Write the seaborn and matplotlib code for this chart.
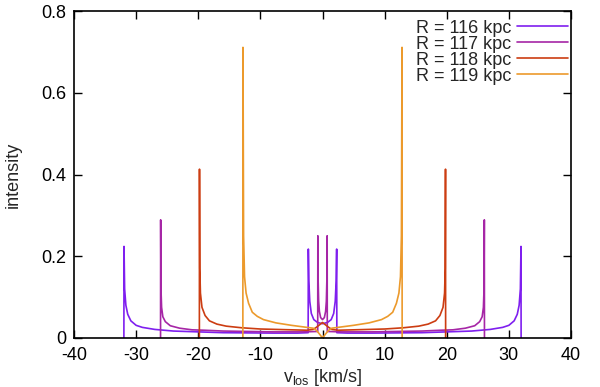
import numpy as np
import pandas as pd
import matplotlib
matplotlib.use("Agg")
import matplotlib.pyplot as plt
import seaborn as sns

# ---- data ----
labels = ["R = 116 kpc", "R = 117 kpc", "R = 118 kpc", "R = 119 kpc"]
colors = ["#7f1fef", "#a626a6", "#cc3d12", "#ec9a2c"]

v116 = [-31.97, -31.95, -31.85, -31.65, -31.35, -30.85, -30.0, -29.0, -27.0, -24.0, -20.0, -16.0, -12.0,
        -8.0, -4.0, -2.31, -2.28, -2.2, -2.05, -1.8, -1.4, -0.8, 0.0,
        0.8, 1.4, 1.8, 2.05, 2.2, 2.28, 2.31, 4.0, 8.0, 12.0, 16.0, 20.0, 24.0, 27.0, 29.0, 30.0,
        30.85, 31.35, 31.65, 31.85, 31.95, 31.97]
i116 = [0.0, 0.224, 0.12, 0.08, 0.058, 0.042, 0.031, 0.026, 0.021, 0.017, 0.015, 0.013, 0.0125,
        0.012, 0.012, 0.013, 0.2175, 0.14, 0.09, 0.06, 0.045, 0.038, 0.035,
        0.038, 0.045, 0.06, 0.09, 0.14, 0.2175, 0.013, 0.012, 0.012, 0.0125, 0.013, 0.015, 0.017, 0.021, 0.026, 0.031,
        0.042, 0.058, 0.08, 0.12, 0.224, 0.0]

v117 = [-26.07, -26.05, -26.0, -25.9, -25.7, -25.3, -24.5, -23.0, -21.0, -19.0, -16.0, -12.0, -8.0,
        -3.0, -0.77, -0.75, -0.7, -0.62, -0.5, -0.3, 0.0,
        0.3, 0.5, 0.62, 0.7, 0.75, 0.77, 3.0, 8.0, 12.0, 16.0, 19.0, 21.0, 23.0, 24.5, 25.3,
        25.7, 25.9, 26.0, 26.05, 26.07]
i117 = [0.0, 0.289, 0.12, 0.075, 0.052, 0.04, 0.03, 0.024, 0.02, 0.019, 0.017, 0.016, 0.015,
        0.015, 0.016, 0.25, 0.14, 0.09, 0.065, 0.05, 0.045,
        0.05, 0.065, 0.09, 0.14, 0.25, 0.016, 0.015, 0.015, 0.016, 0.017, 0.019, 0.02, 0.024, 0.03, 0.04,
        0.052, 0.075, 0.12, 0.289, 0.0]

v118 = [-19.82, -19.8, -19.75, -19.65, -19.4, -18.9, -18.2, -17.0, -15.5, -13.0, -10.0, -5.0, -2.5,
        -1.5, -1.0, -0.5, 0.0, 0.5, 1.0, 1.5, 2.5, 5.0, 10.0, 13.0, 15.5, 17.0, 18.2, 18.9,
        19.4, 19.65, 19.75, 19.8, 19.82]
i118 = [0.0, 0.413, 0.17, 0.11, 0.075, 0.055, 0.042, 0.034, 0.029, 0.025, 0.022, 0.02, 0.019,
        0.021, 0.026, 0.032, 0.038, 0.032, 0.026, 0.021, 0.019, 0.02, 0.022, 0.025, 0.029, 0.034, 0.042, 0.055,
        0.075, 0.11, 0.17, 0.413, 0.0]

v119 = [-12.82, -12.8, -12.7, -12.55, -12.3, -11.9, -11.3, -10.5, -9.5, -7.5, -5.0, -3.0, -1.5,
        -1.0, -0.5, 0.0, 0.5, 1.0, 1.5, 3.0, 5.0, 7.5, 9.5, 10.5, 11.3, 11.9, 12.3, 12.55,
        12.7, 12.8, 12.82]
i119 = [0.0, 0.711, 0.25, 0.15, 0.11, 0.085, 0.063, 0.053, 0.045, 0.037, 0.031, 0.027, 0.024,
        0.019, 0.01, 0.0, 0.01, 0.019, 0.024, 0.027, 0.031, 0.037, 0.045, 0.053, 0.063, 0.085, 0.11, 0.15,
        0.25, 0.711, 0.0]

xticks = [-40, -30, -20, -10, 0, 10, 20, 30, 40]
yticks = [0, 0.2, 0.4, 0.6, 0.8]
ytick_labels = ["0", "0.2", "0.4", "0.6", "0.8"]

series_v = [v116, v117, v118, v119]
series_i = [i116, i117, i118, i119]
frames = []
for lab, vv, ii in zip(labels, series_v, series_i):
    frames.append(pd.DataFrame({"v": vv, "intensity": ii, "R": lab}))
df = pd.concat(frames, ignore_index=True)

# ---- style ----
sns.set_style("ticks")
plt.rcParams["font.family"] = ["Liberation Sans", "DejaVu Sans"]
FS = 13

fig = plt.figure(figsize=(6.0, 3.87), dpi=100)
L, R_, T, B = 74, 571, 11, 338
ax = fig.add_axes([L / 600, 1 - B / 387, (R_ - L) / 600, (B - T) / 387])

sns.lineplot(data=df, x="v", y="intensity", hue="R", palette=colors, sort=False,
             estimator=None, units="R", linewidth=1.2, ax=ax)

ax.set_xlim(-40, 40)
ax.set_ylim(0, 0.8)
ax.set_xticks(xticks)
ax.set_xticklabels([str(t) for t in xticks])
ax.set_yticks(yticks)
ax.set_yticklabels(ytick_labels)
ax.tick_params(direction="in", length=6, width=1, top=True, right=True,
               labelsize=FS, colors="black")
ax.tick_params(axis="x", pad=6.5)
ax.tick_params(axis="y", pad=5.5)
for s in ax.spines.values():
    s.set_visible(True)
    s.set_linewidth(1.2)
    s.set_color("black")

ax.set_xlabel(r"v$_\mathregular{los}$ [km/s]", fontsize=FS, labelpad=2)
ax.set_ylabel("intensity", fontsize=FS, labelpad=14)

handles, labs = ax.get_legend_handles_labels()
leg = ax.legend(handles, labs, loc="upper right", bbox_to_anchor=(0.994, 0.974),
                frameon=False, markerfirst=False, borderpad=0, borderaxespad=0,
                labelspacing=-0.05, handlelength=2.8, handletextpad=0.35, fontsize=FS)

fig.savefig("out.png", dpi=100)
